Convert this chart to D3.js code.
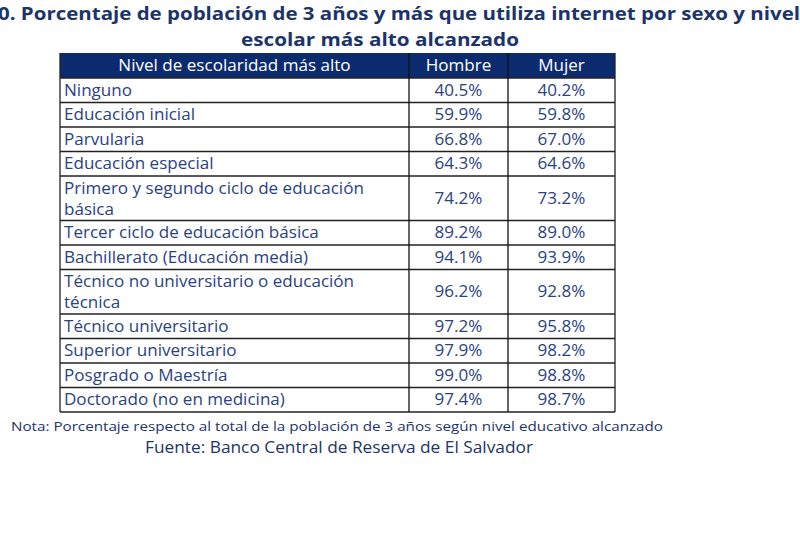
<!DOCTYPE html>
<html>
<head>
<meta charset="utf-8">
<script src="https://cdn.jsdelivr.net/npm/d3@7"></script>
<style>
  html, body { margin: 0; padding: 0; background: #fff; overflow: hidden; }
  svg { display: block; font-family: "Open Sans", Lato, sans-serif; font-variant-ligatures: none; }
</style>
</head>
<body>
<svg id="chart" width="800" height="533"></svg>
<script>
const titleLine1 = "0.  Porcentaje de población de 3 años y más que utiliza internet por sexo y nivel";
const titleLine2 = "escolar más alto alcanzado";
const headers = ["Nivel de escolaridad más alto", "Hombre", "Mujer"];
const categories = [
  ["Ninguno"],
  ["Educación inicial"],
  ["Parvularia"],
  ["Educación especial"],
  ["Primero y segundo ciclo de educación", "básica"],
  ["Tercer ciclo de educación básica"],
  ["Bachillerato (Educación media)"],
  ["Técnico no universitario o educación", "técnica"],
  ["Técnico universitario"],
  ["Superior universitario"],
  ["Posgrado o Maestría"],
  ["Doctorado (no en medicina)"]
];
const hombre = [40.5, 59.9, 66.8, 64.3, 74.2, 89.2, 94.1, 96.2, 97.2, 97.9, 99.0, 97.4];
const mujer  = [40.2, 59.8, 67.0, 64.6, 73.2, 89.0, 93.9, 92.8, 95.8, 98.2, 98.8, 98.7];
const nota = "Nota: Porcentaje respecto al total de la población de 3 años según nivel educativo alcanzado";
const fuente = "Fuente: Banco Central de Reserva de El Salvador";

const svg = d3.select("#chart");
const navy = "#0c2b6e";
const textBlue = "#2a4283";
const titleCol = "#1b3469";

function fit(sel, w) {
  sel.attr("textLength", w).attr("lengthAdjust", "spacingAndGlyphs");
  return sel;
}
function stretch(sel, k) {
  const w = sel.node().getComputedTextLength();
  sel.attr("textLength", w * k).attr("lengthAdjust", "spacingAndGlyphs");
  return sel;
}

// Title
fit(svg.append("text").attr("x", -2).attr("y", 20)
  .attr("font-size", 18.5).attr("font-weight", 700).attr("fill", titleCol)
  .text(titleLine1), 802);
fit(svg.append("text").attr("x", 241).attr("y", 46)
  .attr("font-size", 18.5).attr("font-weight", 700).attr("fill", titleCol)
  .text(titleLine2), 278);

// Table geometry
const colEdges = [60, 409, 508, 615];
const headerTop = 53, headerH = 25;
const singleH = 24.5, doubleH = 44.5;
const heights = categories.map(c => c.length > 1 ? doubleH : singleH);
const tops = [];
let acc = headerTop + headerH;
heights.forEach(h => { tops.push(acc); acc += h; });
const tableBottom = acc;

const rows = categories.map((c, i) => ({lines: c, h: hombre[i], m: mujer[i], top: tops[i], height: heights[i]}));
const fmt = d3.format(".1f");
const fs = 15.5, sk = 1.1;

// Header
svg.append("rect").attr("x", colEdges[0]).attr("y", headerTop)
  .attr("width", colEdges[3] - colEdges[0]).attr("height", headerH).attr("fill", navy);
headers.forEach((h, j) => {
  const t = svg.append("text")
    .attr("x", (colEdges[j] + colEdges[j+1]) / 2).attr("y", headerTop + 18)
    .attr("text-anchor", "middle").attr("font-size", fs).attr("fill", "#fff")
    .text(h);
  stretch(t, sk);
});

// Rows
const rg = svg.append("g").selectAll("g.row").data(rows).join("g").attr("class", "row");
rg.each(function(d) {
  const sel = d3.select(this);
  const t = sel.append("text").attr("font-size", fs).attr("fill", textBlue);
  d.lines.forEach((ln, k) => {
    const ts = t.append("tspan").attr("x", colEdges[0] + 4)
      .attr("y", d.lines.length > 1 ? d.top + 17.6 + k * 21.3 : d.top + 17.5)
      .text(ln);
    const w = ts.node().getComputedTextLength();
    ts.attr("textLength", w * sk).attr("lengthAdjust", "spacingAndGlyphs");
  });
  [d.h, d.m].forEach((v, j) => {
    const n = sel.append("text")
      .attr("x", (colEdges[j+1] + colEdges[j+2]) / 2)
      .attr("y", d.top + d.height / 2 + 5.5)
      .attr("text-anchor", "middle").attr("font-size", fs).attr("fill", textBlue)
      .text(fmt(v) + "%");
    stretch(n, sk);
  });
});

// Grid lines
const lineCol = "#222";
tops.concat([tableBottom]).forEach(y => {
  svg.append("line").attr("x1", colEdges[0]).attr("x2", colEdges[3])
    .attr("y1", y).attr("y2", y).attr("stroke", lineCol).attr("stroke-width", 1.3);
});
colEdges.forEach((x, j) => {
  svg.append("line").attr("x1", x).attr("x2", x)
    .attr("y1", headerTop).attr("y2", tableBottom)
    .attr("stroke", j === 0 || j === 3 ? lineCol : "#111").attr("stroke-width", 1.3);
});

// Notes
fit(svg.append("text").attr("x", 11).attr("y", 431)
  .attr("font-size", 13.5).attr("fill", titleCol)
  .text(nota), 652);
fit(svg.append("text").attr("x", 145).attr("y", 453)
  .attr("font-size", 15.5).attr("fill", titleCol)
  .text(fuente), 388);
</script>
</body>
</html>
